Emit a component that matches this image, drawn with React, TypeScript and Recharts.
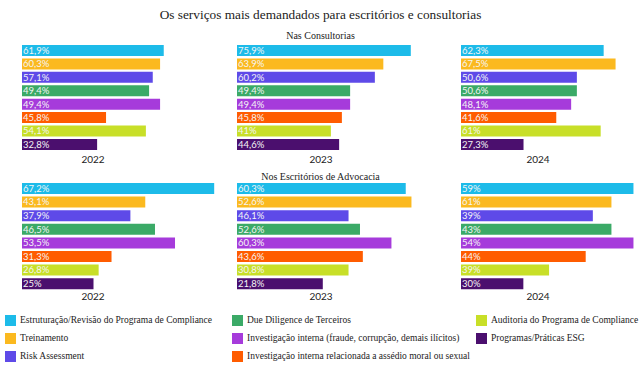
import React from 'react';
import { BarChart, Bar, XAxis, YAxis, Cell, LabelList } from 'recharts';

const categories = [
  'Estruturação/Revisão do Programa de Compliance',
  'Treinamento',
  'Risk Assessment',
  'Due Diligence de Terceiros',
  'Investigação interna (fraude, corrupção, demais ilícitos)',
  'Investigação interna relacionada a assédio moral ou sexual',
  'Auditoria do Programa de Compliance',
  'Programas/Práticas ESG',
];
const colors = ['#1DBBE9', '#FBB91F', '#5E4AE8', '#3BAA67', '#A63BDB', '#FF5C00', '#C8DF28', '#4B0F6E'];
const years = ['2022', '2023', '2024'];

const consult2022Values = [61.9, 60.3, 57.1, 55.5, 60.3, 36.7, 54.1, 32.8];
const consult2022Labels = ['61,9%', '60,3%', '57,1%', '49,4%', '49,4%', '45,8%', '54,1%', '32,8%'];
const consult2023Values = [75.9, 63.9, 60.2, 49.4, 49.4, 45.8, 41, 44.6];
const consult2023Labels = ['75,9%', '63,9%', '60,2%', '49,4%', '49,4%', '45,8%', '41%', '44,6%'];
const consult2024Values = [62.3, 67.5, 50.6, 50.6, 48.1, 41.6, 61, 27.3];
const consult2024Labels = ['62,3%', '67,5%', '50,6%', '50,6%', '48,1%', '41,6%', '61%', '27,3%'];

const adv2022Values = [67.2, 43.1, 37.9, 46.5, 53.5, 31.3, 26.8, 25];
const adv2022Labels = ['67,2%', '43,1%', '37,9%', '46,5%', '53,5%', '31,3%', '26,8%', '25%'];
const adv2023Values = [59, 61, 39, 43, 54, 44, 39, 30];
const adv2023Labels = ['60,3%', '52,6%', '46,1%', '52,6%', '60,3%', '43,6%', '30,8%', '21,8%'];
const adv2024Values = [60.3, 52.6, 46.1, 52.6, 60.3, 43.6, 30.8, 21.8];
const adv2024Labels = ['59%', '61%', '39%', '43%', '54%', '44%', '39%', '30%'];

const SERIF = '"Liberation Serif", "DejaVu Serif", serif';
const SANS = 'Lato, "Open Sans", sans-serif';

type PanelProps = {
  values: number[];
  labels: string[];
  left: number;
  top: number;
  height: number;
  scale: number;
  barSize: number;
};

function Panel({ values, labels, left, top, height, scale, barSize }: PanelProps) {
  const data = categories.map((name, i) => ({ name, value: values[i], label: labels[i] }));
  const width = Math.round(100 * scale);
  return (
    <div style={{ position: 'absolute', left, top }}>
      <BarChart
        layout="vertical"
        width={width}
        height={height}
        data={data}
        margin={{ top: 0, right: 0, bottom: 0, left: 0 }}
      >
        <XAxis type="number" domain={[0, 100]} hide />
        <YAxis type="category" dataKey="name" hide />
        <Bar dataKey="value" barSize={barSize} isAnimationActive={false}>
          {data.map((d, i) => (
            <Cell key={d.name} fill={colors[i]} />
          ))}
          <LabelList
            dataKey="label"
            position="insideLeft"
            offset={1}
            fill="#f5f5f5"
            fontSize={9.5}
            fontFamily={SANS}
          />
        </Bar>
      </BarChart>
    </div>
  );
}

const colLefts = [22, 237, 461];
const yearCenters = [93, 321, 538];

function YearLabel({ text, cx, cy }: { text: string; cx: number; cy: number }) {
  return (
    <div
      style={{
        position: 'absolute',
        left: cx - 30,
        top: cy - 7,
        width: 60,
        height: 14,
        lineHeight: '14px',
        textAlign: 'center',
        fontFamily: SANS,
        fontSize: 10,
        color: '#222',
      }}
    >
      {text}
    </div>
  );
}

function CenterText({ text, cy, size }: { text: string; cy: number; size: number }) {
  return (
    <div
      style={{
        position: 'absolute',
        left: 0,
        top: cy - size,
        width: 641,
        height: size * 2,
        lineHeight: `${size * 2}px`,
        textAlign: 'center',
        fontFamily: SERIF,
        fontSize: size,
        color: '#222',
        whiteSpace: 'nowrap',
      }}
    >
      {text}
    </div>
  );
}

const legendCols = [
  { sq: 5, tx: 20, items: [0, 1, 2] },
  { sq: 232, tx: 247, items: [3, 4, 5] },
  { sq: 476, tx: 491, items: [6, 7] },
];
const legendRows = [320, 338, 356];

export default function App() {
  const topValues = [consult2022Values, consult2023Values, consult2024Values];
  const topLabels = [consult2022Labels, consult2023Labels, consult2024Labels];
  const botValues = [adv2022Values, adv2023Values, adv2024Values];
  const botLabels = [adv2022Labels, adv2023Labels, adv2024Labels];
  return (
    <div
      style={{
        position: 'absolute',
        left: 0,
        top: 0,
        width: 641,
        height: 372,
        background: '#fff',
        overflow: 'hidden',
      }}
    >
      <CenterText text="Os serviços mais demandados para escritórios e consultorias" cy={15} size={13.3} />
      <CenterText text="Nas Consultorias" cy={35.5} size={10} />
      <CenterText text="Nos Escritórios de Advocacia" cy={176.5} size={10} />
      {years.map((y, i) => (
        <Panel
          key={'t' + y}
          values={topValues[i]}
          labels={topLabels[i]}
          left={colLefts[i]}
          top={43.6}
          height={107.4}
          scale={2.29}
          barSize={11}
        />
      ))}
      {years.map((y, i) => (
        <Panel
          key={'b' + y}
          values={botValues[i]}
          labels={botLabels[i]}
          left={colLefts[i]}
          top={181.5}
          height={108.8}
          scale={2.86}
          barSize={11}
        />
      ))}
      {years.map((y, i) => (
        <YearLabel key={'ty' + y} text={y} cx={yearCenters[i]} cy={159} />
      ))}
      {years.map((y, i) => (
        <YearLabel key={'by' + y} text={y} cx={yearCenters[i]} cy={296} />
      ))}
      {legendCols.map((col) =>
        col.items.map((idx, r) => (
          <React.Fragment key={idx}>
            <div
              style={{
                position: 'absolute',
                left: col.sq,
                top: legendRows[r] - 5.5,
                width: 11,
                height: 11,
                background: colors[idx],
              }}
            />
            <div
              style={{
                position: 'absolute',
                left: col.tx,
                top: legendRows[r] - 7,
                height: 14,
                lineHeight: '14px',
                fontFamily: SERIF,
                fontSize: 9.5,
                color: '#222',
                whiteSpace: 'nowrap',
              }}
            >
              {categories[idx]}
            </div>
          </React.Fragment>
        ))
      )}
    </div>
  );
}
